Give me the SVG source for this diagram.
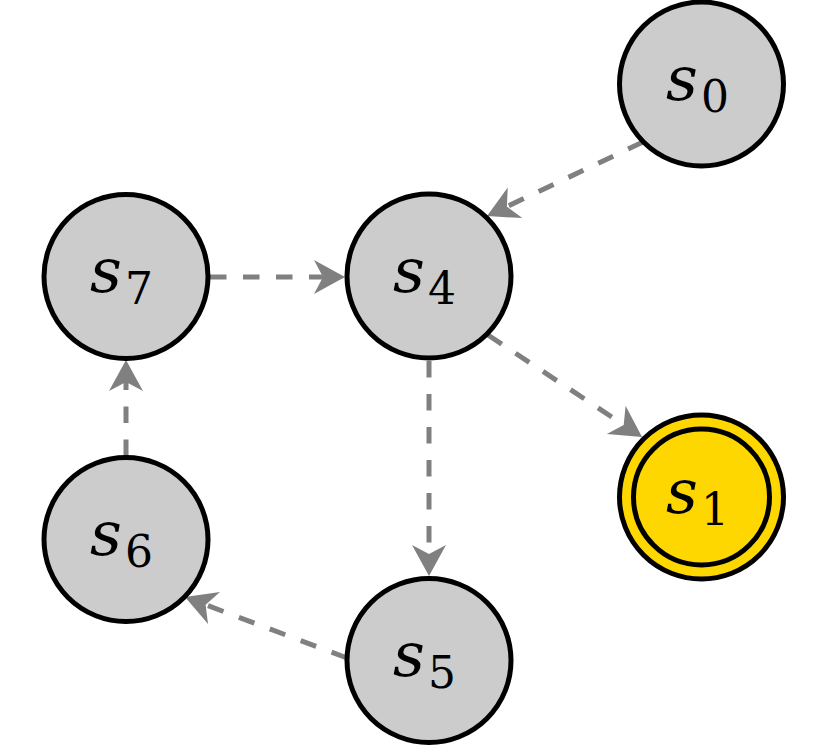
<svg xmlns="http://www.w3.org/2000/svg" width="830" height="754" viewBox="0 0 830 754">
<style>
.st{fill:#cccccc;stroke:#000;stroke-width:5}
.acc{fill:#ffd700;stroke:#000;stroke-width:5}
.e{fill:none;stroke:#808080;stroke-width:5;stroke-dasharray:16.5 16.5}
.v{font-family:'DejaVu Serif','Liberation Serif',serif;font-style:italic;font-size:62px}
.sub{font-family:'DejaVu Serif','Liberation Serif',serif;font-size:44px}
</style>
<defs>
<marker id="ah" markerUnits="userSpaceOnUse" viewBox="-10 -18 33 36" refX="0" refY="0" markerWidth="33" markerHeight="36" orient="auto">
<path d="M22,0 L-9,-17 L0,0 L-9,17 Z" fill="#808080"/>
</marker>
</defs>
<g id="edges">
<path class="e" d="M643,142 L506.9,206.6" marker-end="url(#ah)"/>
<path class="e" d="M210,277 L323,277" marker-end="url(#ah)"/>
<path class="e" d="M488,335 L623.7,424.9" marker-end="url(#ah)"/>
<path class="e" d="M429,361 L429,554" marker-end="url(#ah)"/>
<path class="e" d="M347,658 L205.6,604.8" marker-end="url(#ah)"/>
<path class="e" d="M126,456 L126,382" marker-end="url(#ah)"/>
</g>
<g id="s0">
<circle class="st" cx="701.5" cy="84" r="82"/>
<text x="666" y="100"><tspan class="v">s</tspan><tspan class="sub" x="701" y="112">0</tspan></text>
</g>
<g id="s7">
<circle class="st" cx="126" cy="276.5" r="82"/>
<text x="90" y="292"><tspan class="v">s</tspan><tspan class="sub" x="125" y="304">7</tspan></text>
</g>
<g id="s4">
<circle class="st" cx="429" cy="276" r="82"/>
<text x="393" y="292"><tspan class="v">s</tspan><tspan class="sub" x="428" y="304">4</tspan></text>
</g>
<g id="s1">
<circle class="acc" cx="701.5" cy="497" r="82"/>
<circle class="acc" cx="701.5" cy="497" r="68"/>
<text x="666" y="513"><tspan class="v">s</tspan><tspan class="sub" x="701" y="525">1</tspan></text>
</g>
<g id="s6">
<circle class="st" cx="126" cy="539.5" r="82"/>
<text x="90" y="555"><tspan class="v">s</tspan><tspan class="sub" x="125" y="567">6</tspan></text>
</g>
<g id="s5">
<circle class="st" cx="429" cy="660.5" r="82"/>
<text x="393" y="676"><tspan class="v">s</tspan><tspan class="sub" x="428" y="688">5</tspan></text>
</g>
</svg>
